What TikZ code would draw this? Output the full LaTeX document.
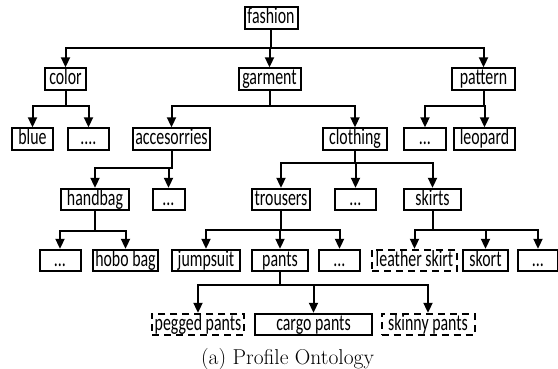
\documentclass[tikz,border=0pt]{standalone}
\usepackage{fontspec}
\usepackage{tikz}
\usetikzlibrary{arrows.meta}
\newfontfamily\ontofont[FakeStretch=0.69]{Carlito}
\tikzset{
    conc/.style   = {draw=black, line width=2pt, font=\ontofont\fontsize{23}{23}\selectfont,
                     inner xsep=2pt, inner ysep=0.4pt, text height=16pt, text depth=4.6pt,
                     minimum width=41pt},
    concd/.style  = {conc, dash pattern=on 7pt off 5pt},
    lig/.style    = {-{Triangle[length=10pt, width=9pt]}, line width=2pt, black},
}

\begin{document}
\begin{tikzpicture}[x=10pt, y=10pt]
        \useasboundingbox (0,0) rectangle (55.8,-36.8);
        % raiz
        \node[conc, minimum width=53pt] (fashion) at (27.1,-1.8) {fashion};
        % nivel 1
        \node[conc] (color) at (6.55,-7.9) {color};
        \node[conc, minimum width=62pt] (garment) at (26.95,-7.9) {garment};
        \node[conc, minimum width=63pt] (pattern) at (48.35,-7.9) {pattern};
        % nivel 2
        \node[conc] (blue) at (3.25,-13.9) {blue};
        \node[conc] (colorx) at (8.85,-13.9) {....};
        \node[conc, minimum width=77pt] (accesorries) at (17.15,-13.9) {accesorries};
        \node[conc, minimum width=64pt] (clothing) at (35.5,-13.9) {clothing};
        \node[conc, minimum width=42pt] (patternx) at (42.5,-13.9) {...};
        \node[conc, minimum width=61pt] (leopard) at (48.45,-13.9) {leopard};
        % nivel 3
        \node[conc, minimum width=68pt] (handbag) at (9.5,-19.95) {handbag};
        \node[conc, minimum width=32pt] (accx) at (16.85,-19.95) {...};
        \node[conc, minimum width=58pt] (trousers) at (28.1,-19.95) {trousers};
        \node[conc] (clothx) at (35.55,-19.95) {...};
        \node[conc, minimum width=57pt] (skirts) at (43.25,-19.95) {skirts};
        % nivel 4
        \node[conc] (handx) at (6.0,-26.05) {...};
        \node[conc, minimum width=65pt] (hobobag) at (12.55,-26.05) {hobo bag};
        \node[conc, minimum width=68pt] (jumpsuit) at (20.6,-26.05) {jumpsuit};
        \node[conc, minimum width=56pt] (pants) at (28.0,-26.05) {pants};
        \node[conc] (trousx) at (33.95,-26.05) {...};
        \node[concd, minimum width=85pt] (leather) at (41.45,-26.05) {leather skirt};
        \node[conc, minimum width=45pt] (skort) at (48.55,-26.05) {skort};
        \node[conc, minimum width=40pt] (skirtx) at (53.8,-26.05) {...};
        % nivel 5
        \node[concd, minimum width=92pt] (pegged) at (19.8,-32.45) {pegged pants};
        \node[conc, minimum width=117pt] (cargo) at (31.35,-32.45) {cargo pants};
        \node[concd, minimum width=93pt] (skinny) at (42.8,-32.45) {skinny pants};
        % ligacoes
        \foreach \c in {color,garment,pattern}
            \draw[lig] (fashion.south) -- ++(0,-1.8) -| (\c.north);
        \foreach \c in {blue,colorx}
            \draw[lig] (color.south) -- ++(0,-1.5) -| (\c.north);
        \foreach \c in {accesorries,clothing}
            \draw[lig] (garment.south) -- ++(0,-1.5) -| (\c.north);
        \foreach \c in {patternx,leopard}
            \draw[lig] (pattern.south) -- ++(0,-1.5) -| (\c.north);
        \foreach \c in {handbag,accx}
            \draw[lig] (accesorries.south) -- ++(0,-1.7) -| (\c.north);
        \foreach \c in {trousers,clothx,skirts}
            \draw[lig] (clothing.south) -- ++(0,-1.2) -| (\c.north);
        \foreach \c in {handx,hobobag}
            \draw[lig] (handbag.south) -- ++(0,-2.0) -| (\c.north);
        \foreach \c in {jumpsuit,pants,trousx}
            \draw[lig] (trousers.south) -- ++(0,-1.9) -| (\c.north);
        \foreach \c in {leather,skort,skirtx}
            \draw[lig] (skirts.south) -- ++(0,-1.9) -| (\c.north);
        \foreach \c in {pegged,cargo,skinny}
            \draw[lig] (pants.south) -- ++(0,-1.3) -| (\c.north);
        % legenda
        \node[anchor=base, inner sep=0pt, font=\fontsize{21.5}{21.5}\selectfont] (legenda) at (28.75,-36.45) {(a) Profile Ontology};
\end{tikzpicture}
\end{document}
